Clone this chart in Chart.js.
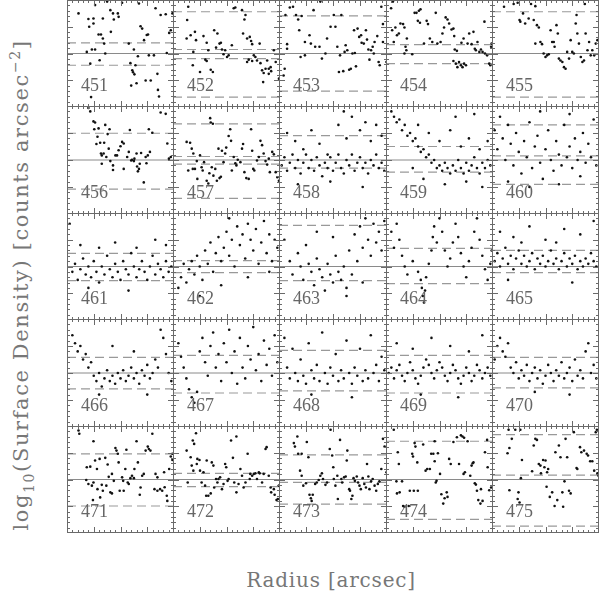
<!DOCTYPE html>
<html><head><meta charset="utf-8">
<script src="https://cdn.jsdelivr.net/npm/chart.js@4.4.1/dist/chart.umd.min.js"></script>
<style>
html,body{margin:0;padding:0;background:#fff;width:600px;height:601px;overflow:hidden;}
#wrap{position:relative;width:600px;height:601px;}
.panel{position:absolute;}
.panel canvas{display:block;}
.lab{position:absolute;font-family:"Liberation Serif",serif;font-size:18px;color:#666;white-space:nowrap;}
#xt{position:absolute;left:331px;top:580px;transform:translate(-50%,-50%);font-family:"DejaVu Serif",serif;font-size:20px;letter-spacing:0.8px;color:#777;white-space:nowrap;}
#yt{position:absolute;left:22px;top:285px;transform:translate(-50%,-50%) rotate(-90deg);font-family:"DejaVu Serif",serif;font-size:21px;letter-spacing:1.6px;color:#777;white-space:nowrap;}
#yt sub,#yt sup{font-size:14px;}
</style></head><body>
<div id="wrap">
<div id="xt">Radius [arcsec]</div>
<div id="yt">log<sub>10</sub>(Surface Density) [counts arcsec<sup>−2</sup>]</div>
</div>
<script>
const panelIds = [451,452,453,454,455,456,457,458,459,460,461,462,463,464,465,466,467,468,469,470,471,472,473,474,475];
const solidLevels = [20,20,20,20,20, 20,20,20,20,20, 20,20,20,20,20, 20,20,20,20,20, 20,20,20,20,20];
const dashLevels = [
 [24,15.6],[35.6,21.5,18.1,3.7],[34.1,5.9],[23.3,16.2],[35.6,3.7],
 [29.9,9.2],[33.4,21.3,18.5,5.8],[29,17],[25,15.5],[33,21.5,11],
 [24.9,14.7],[22.2,17.7],[35.4,14.7],[26.8,13.6],[26,17.7],
 [25.8,14.1],[26.5,12.6],[28.4,13.4],[26.5,12.6],[25.8,14.5],
 [29.6,10.1],[22.3,17.3],[29.2,18.9,10.8],[34.3,5.1],[36.8,21.6,2.6]
];
const pts451 = [[4.3,35],[8,32.9],[9.9,33.1],[8.3,30],[9.9,31.2],[10.5,38.1],[13.4,33.1],[15,39.4],[16.2,36.2],[17.2,35],[17.5,32.7],[19,35],[19.3,33.7],[20.6,39],[11.8,27.1],[12.7,27.1],[13.4,25.6],[13.9,23.7],[16.4,28.1],[7.4,20.6],[9.3,21.5],[10.5,21.5],[8.7,16.2],[12.2,17.5],[14.3,20],[23.1,23.7],[25,21.5],[23.7,16.4],[24.4,13.7],[24.7,13],[25.2,12.2],[24,8],[26,8.9],[26.5,19],[26.9,38.7],[27.5,30.2],[28.1,29.3],[28.8,25],[29.8,26.9],[30.3,27.1],[30.6,19.3],[32.5,19.3],[29.4,9.9],[31.3,9.9],[33.1,36.9],[33.8,12.4],[34,6.4],[34.4,3.9],[35,34.4],[36.9,34.7],[37.3,20.2],[38.2,27.7],[38.8,28.7],[39.4,35],[9,3.7],[25.6,15.6]];
const pts452 = [[5.7,37.5],[5.3,32.5],[5.1,25.6],[6.6,26.8],[8.2,28.1],[8.6,25],[7.6,20.6],[7.4,15.6],[10.1,13.1],[11.4,26.5],[12.6,24],[13.2,21.2],[14.1,13.9],[14.9,13.1],[12.1,17.7],[12.6,17.2],[15.4,28.7],[16.1,22.2],[16.6,27.5],[17.4,23.7],[17.9,24],[18.3,21.5],[18.9,19.7],[19.5,21.2],[20.2,18.7],[20.8,19.3],[22,23.1],[22.7,36.9],[23.3,37.2],[25.8,36.2],[27.1,34.4],[26.7,32.7],[26.2,27.5],[27.7,25.6],[28.7,26.2],[29.2,24.7],[29.6,23.5],[30.2,19.3],[30.8,18.7],[28.3,17.7],[27.7,16.8],[29.6,17.2],[31.4,17.4],[32.4,23.7],[32.7,16.4],[33.3,13.7],[33.9,12.7],[34.6,14.3],[35.2,17.4],[35.8,14.3],[36.5,14.9],[36.7,13.4],[37.7,21.2],[38.4,16.8],[33.7,9.3],[39.6,10.6],[35.8,12.4]];
const pts453 = [[2.1,14.3],[1.7,11.8],[2.4,34.4],[3,21.8],[3,23.5],[4,37.2],[5.2,37.5],[6.3,34.4],[7.1,32.7],[7.5,28.7],[8.4,34],[8,18.7],[9.6,19.3],[9.6,24.3],[11.3,26.8],[11.8,23.7],[12.8,36.2],[13.4,22.5],[15,22.5],[15.9,18.1],[17.2,20],[15.3,39.4],[17.8,25.6],[19.1,30],[20.3,34.4],[20.9,30],[21.6,22.5],[22.2,13.1],[22.6,19.3],[23.1,34.4],[23.8,13.4],[24.3,20.6],[24.7,23.1],[25.3,21.2],[26,13.9],[26.6,14.3],[27.2,20],[28.1,20.2],[28.5,15.2],[27.8,28.7],[29.1,29.3],[29.7,26.2],[30.4,26.8],[30.6,24],[31.4,23.7],[32.2,28.7],[32.6,25.2],[33.1,21.5],[33.5,17.7],[34.1,21.2],[34.7,22.5],[35.4,24.3],[35.1,20],[36.4,26.5],[36.9,16.8],[37.3,15.6],[37.9,37.5],[38.5,31],[38.5,24.3],[39.8,16.8]];
const pts454 = [[1.9,36.9],[2.6,39.4],[2.3,28.7],[2.9,24.3],[3.5,29.7],[4.1,26.8],[4.8,27.5],[5.4,31.2],[6.4,31],[6.9,29.7],[7.3,22.5],[7.6,21.2],[6.9,20],[7.8,25.6],[9.8,19.7],[10.7,35.2],[11.4,35.2],[12.3,36],[12.9,36.5],[11.9,32.2],[12.7,31.5],[14.2,23.7],[15.2,32.2],[15.7,31],[16.4,25.6],[17.3,24.3],[18.6,35.2],[19.2,23.7],[20.4,24.3],[21.1,27.5],[21.7,29.7],[22.3,33.5],[23,32.7],[23.6,31.2],[24.5,29],[25.2,29.3],[25.5,26.5],[25.7,21.5],[26.5,21],[25.2,17.2],[26.1,16.2],[26.7,14.9],[27.3,16.8],[28,15.6],[28.6,14.9],[29.2,16.2],[29.9,15.6],[28.2,24],[29,25.6],[30.5,23.7],[31.1,27.5],[32,23.5],[32.7,28.1],[33.2,21.8],[33.6,21.2],[34.2,24.3],[34.9,20.6],[35.5,21.5],[36.1,20.6],[36.8,31.9],[37,20],[37.8,19.3],[38.6,16.2],[39,15.6],[39.3,22.5],[39.5,23.7]];
const pts455 = [[4.5,37.5],[8.1,38.5],[9.6,39],[10.6,31.9],[10.3,32.5],[11.6,35],[12.4,31.2],[13.7,33.1],[14.6,38.5],[15.6,32.5],[16.2,37.7],[16.8,30.6],[17.5,29.7],[16.2,23.7],[18.1,24.3],[18.7,23.5],[19.3,20],[20,18.7],[20.6,19.3],[21.2,19.7],[21.9,28.7],[22.5,24.3],[23.1,24.3],[23.4,22.5],[24.1,30.6],[24.6,27.5],[25,18.1],[25.6,17.4],[26.3,16.8],[26.9,14.9],[27.5,14.3],[28.1,20.6],[28.8,18.1],[29.4,25],[30,20.6],[30.6,20],[31.3,31.2],[31.6,34.4],[31.9,27.5],[32.5,23.7],[33.2,18.7],[33.8,16.8],[34.4,17.4],[34.7,38.5],[35,27.5],[35.7,21.2],[36.3,24.3],[36.9,19.3],[37.5,21.2],[38.2,19.3],[38.8,23.7],[39.4,25]];
const pts456 = [[8,39.3],[8.7,38],[9.9,34.3],[10.5,33.9],[10.2,31.4],[11.8,31.7],[11.4,28.6],[12.4,26.4],[11,25.9],[13.9,26.4],[14.3,33],[15.9,31.4],[15.2,29.6],[13,21.7],[12.7,22.4],[13.7,22.4],[13,18.6],[14.7,21.1],[15.6,24.2],[16.2,19.6],[17.2,18],[17.2,16.3],[18.1,21.7],[18.7,21.7],[19.3,23.6],[20,25.1],[20.6,26.7],[21.2,26.1],[21.2,16.7],[22.5,21.1],[23.1,23],[23.5,31.1],[24,19.8],[24.3,20.1],[25,19.6],[25.2,20.5],[26,22.4],[26.2,17.6],[26.5,15.8],[26.9,16.7],[27.2,18.6],[27.7,22.6],[28.7,11.7],[29.4,21.1],[29.7,18.8],[30.2,21.7],[31,23],[30.6,31.4],[31.9,30.1],[35,37.6],[36.9,37.1],[37.5,26.1],[38.1,20.5],[38.8,21.1]];
const pts457 = [[5.1,26.7],[6.4,26.4],[7,24.2],[5.7,16.1],[7.6,22.4],[7.4,16.7],[8.2,16.7],[8.9,19.6],[9.1,13],[10.1,21.7],[10.7,17.3],[11.1,16.1],[11.6,19.2],[12.6,12.3],[13.2,11.3],[13.9,35.5],[14.1,33.9],[14.9,33.4],[13.6,15.1],[14.5,17.3],[15.1,14.2],[15.8,16.7],[16.4,12.3],[17,24.2],[17.4,13.3],[17.9,13.8],[18.3,23.4],[18.9,19.2],[19.5,22.4],[19.9,24.6],[20.8,28.9],[21.4,31.4],[21.7,27.1],[22,16.1],[22.7,21.1],[23.3,18.8],[23.7,18],[24.2,20.1],[25.2,19.2],[25.8,24.2],[26.2,25.9],[26.7,15.5],[27.4,13.3],[28.3,13],[29.2,31.4],[29.6,23.4],[30,16.7],[30.4,16.1],[31.4,19.8],[32.1,21.1],[32.7,27.1],[33.3,25.5],[33.9,22.4],[34.6,19.6],[35.2,18.3],[35.8,20.5],[36.2,15.5],[37.1,23],[37.7,22.1],[38.4,15.5],[39,13.6],[39.6,12.3]];
const pts458 = [[3,30],[6,27],[9,24],[12,31],[15,26],[18,22],[22,33],[25,28],[27,36],[30,31],[32,34],[34,27],[36,33],[38,29],[24,38],[1,18],[2,21],[3,16],[4,19],[5,22],[6,17],[7,20],[8,15],[9,19],[10,22],[11,17],[12,20],[13,16],[14,21],[15,18],[16,14],[17,19],[18,17],[19,21],[20,16],[21,19],[22,22],[23,17],[24,15],[25,20],[26,18],[27,22],[28,16],[29,19],[30,21],[31,17],[32,19],[33,15],[34,20],[35,18],[36,22],[37,17],[38,19],[39,16],[7,11],[19,12],[31,10]];
const pts459 = [[2,38],[3,36],[4,34],[5,35],[6,31],[7,33],[8,29],[9,30],[10,27],[11,28],[12,25],[13,23],[14,24],[15,21],[16,22],[17,19],[18,20],[19,17],[20,18],[21,16],[22,19],[23,17],[24,15],[25,18],[26,16],[27,20],[28,17],[29,15],[30,19],[31,16],[32,18],[33,21],[34,17],[35,15],[36,19],[37,17],[38,20],[39,18],[12,33],[16,30],[20,27],[24,31],[28,25],[31,28],[35,24],[38,27],[26,36],[33,37],[10,17],[14,13],[22,11],[30,12],[36,10]];
const pts460 = [[1,31],[2,24],[3,36],[4,28],[5,20],[6,33],[7,26],[8,18],[9,30],[10,23],[11,15],[12,27],[13,21],[14,34],[15,17],[16,25],[17,29],[18,19],[19,13],[20,24],[21,31],[22,20],[23,16],[24,27],[25,22],[26,18],[27,33],[28,21],[29,25],[30,17],[31,28],[32,20],[33,23],[34,30],[35,19],[36,26],[37,21],[38,35],[39,18],[6,12],[14,10],[25,11],[33,14],[18,38],[29,37]];
const pts461 = [[1,36],[2,18],[3,21],[4,15],[5,19],[6,23],[7,17],[8,20],[9,16],[10,22],[11,18],[12,14],[13,20],[14,17],[15,24],[16,19],[17,16],[18,21],[19,18],[20,15],[21,22],[22,19],[23,17],[24,25],[25,20],[26,16],[27,19],[28,22],[29,18],[30,15],[31,20],[32,24],[33,17],[34,21],[35,19],[36,16],[37,22],[38,18],[39,20],[5,28],[12,27],[18,29],[26,27],[33,30],[37,28],[8,12],[23,11]];
const pts462 = [[2,12],[3,16],[5,14],[6,19],[7,22],[8,17],[9,24],[10,20],[11,15],[12,26],[13,21],[14,29],[15,18],[16,25],[17,31],[18,22],[19,27],[20,33],[21,24],[22,30],[23,20],[24,35],[25,28],[26,32],[27,23],[28,36],[29,30],[30,26],[31,34],[32,21],[33,29],[34,37],[35,25],[36,32],[37,22],[38,30],[39,27],[10,9],[18,13],[28,16],[36,18],[4,21],[21,38]];
const pts463 = [[2,30],[4,22],[5,17],[7,25],[8,20],[9,15],[10,28],[11,21],[12,18],[13,13],[14,23],[15,19],[16,16],[17,11],[18,21],[19,17],[20,14],[21,24],[22,18],[23,15],[24,20],[25,12],[26,26],[27,17],[28,32],[29,22],[30,35],[31,27],[32,38],[33,30],[34,24],[35,36],[36,29],[37,33],[38,26],[39,37],[20,31],[14,33],[25,9],[31,14]];
const pts464 = [[2,33],[3,27],[4,36],[5,30],[6,24],[7,20],[8,17],[10,22],[12,18],[13,15],[13.4,12],[13.8,9],[14.2,6.5],[14.6,11],[15,16],[16,21],[17,26],[17.5,31],[18,35],[19,29],[20,38],[21,33],[22,26],[23,20],[24,23],[25,29],[26,36],[27,31],[28,25],[29,20],[30,16],[31,22],[32,27],[33,33],[34,38],[35,30],[36,24],[37,19],[38,15],[39,21],[39.5,26]];
const pts465 = [[1,22],[2,25],[3,20],[4,23],[5,27],[6,21],[7,24],[8,19],[9,23],[10,26],[11,21],[12,24],[13,20],[14,22],[15,25],[16,19],[17,23],[18,21],[19,24],[20,20],[21,22],[22,26],[23,21],[24,23],[25,19],[26,22],[27,25],[28,20],[29,23],[30,21],[31,24],[32,19],[33,22],[34,20],[35,23],[36,21],[37,25],[38,22],[39,20],[3,33],[8,31],[14,35],[20,30],[27,34],[33,32],[38,37],[11,29],[24,29],[6,15],[30,14]];
const pts466 = [[2,34],[3,31],[4,28],[5,30],[6,25],[7,27],[8,22],[9,24],[10,19],[11,17],[12,20],[13,15],[14,18],[15,21],[16,17],[17,19],[18,16],[19,20],[20,18],[21,21],[22,17],[23,19],[24,22],[25,18],[26,20],[27,16],[28,21],[29,19],[30,23],[31,18],[32,20],[33,25],[34,22],[35,36],[36,33],[37,27],[38,20],[39,17],[17,30],[25,28],[12,12],[30,12]];
const pts467 = [[2,31],[3,26],[4,22],[5,18],[6,14],[7,11],[8,9],[9,13],[10,28],[11,33],[12,24],[13,19],[14,30],[15,35],[16,22],[17,27],[18,17],[19,31],[20,24],[21,36],[22,20],[23,28],[24,16],[25,33],[26,22],[27,18],[28,30],[29,25],[30,37],[31,21],[32,27],[33,17],[34,32],[35,23],[36,29],[37,19],[38,34],[39,24]];
const pts468 = [[2,33],[3,22],[4,18],[5,29],[6,20],[7,17],[8,25],[9,19],[10,16],[11,31],[12,21],[13,18],[14,23],[15,17],[16,35],[17,20],[18,16],[19,22],[20,19],[21,27],[22,17],[23,21],[24,18],[25,32],[26,20],[27,16],[28,22],[29,19],[30,29],[31,17],[32,21],[33,18],[34,34],[35,20],[36,23],[37,17],[38,26],[39,21],[12,12],[27,11]];
const pts469 = [[1,20],[2,22],[3,18],[4,21],[5,23],[6,19],[7,17],[8,20],[9,24],[10,21],[11,18],[12,16],[13,19],[14,22],[15,25],[16,23],[17,20],[18,18],[19,21],[20,24],[21,22],[22,19],[23,17],[24,20],[25,23],[26,21],[27,18],[28,16],[29,19],[30,22],[31,20],[32,17],[33,19],[34,23],[35,21],[36,18],[37,20],[38,22],[39,19],[4,31],[10,29],[17,33],[24,30],[31,28],[36,34],[13,12],[27,11]];
const pts470 = [[1,25],[2,30],[3,33],[4,28],[5,26],[6,31],[7,22],[8,20],[9,24],[10,18],[11,21],[12,19],[13,23],[14,17],[15,20],[16,22],[17,18],[18,21],[19,16],[20,19],[21,23],[22,20],[23,17],[24,21],[25,19],[26,24],[27,18],[28,20],[29,22],[30,17],[31,25],[32,19],[33,21],[34,18],[35,28],[36,31],[37,20],[38,23],[39,18],[16,13],[29,12]];
const pts471 = [[4.3,38.3],[4.6,37.1],[9.9,34.3],[7.4,24.6],[8.7,24.8],[7.2,19.8],[8,18.3],[9.3,17.7],[9.9,18.9],[9.7,12.3],[10.5,27.1],[11.2,23.9],[11.4,16.4],[12.2,27.7],[12.4,13.3],[13,18],[13.4,15.8],[14.3,28.1],[14.7,17.7],[15.2,25.6],[15.6,21],[16.2,15.2],[16.8,22.1],[16.8,14.8],[17.5,19.5],[18.1,31.8],[18.5,30.8],[19,29.6],[19.3,26.4],[19.7,15.8],[20.6,20.8],[21,19.5],[21.2,15.8],[21.8,23.9],[22.2,31.1],[22.7,18.9],[23.1,18.3],[23.7,20.5],[24.3,21.4],[25,20.5],[25.2,23.9],[26,34.3],[26.5,26.4],[27.2,14.3],[27.5,17],[28.1,21.4],[28.7,22.1],[29.4,30.8],[30.2,32.3],[30.6,31.4],[31.2,30.8],[31.9,37.1],[33.1,22.1],[33.8,20.8],[32.7,16.4],[33.8,15.8],[34.8,16.4],[35.6,15.8],[36.3,22.7],[36.5,17.1],[37.3,13.9],[37.5,12],[38.2,23.9],[38.8,28.6],[39.4,29.6],[39.4,27.3]];
const pts472 = [[5.1,30.8],[5.5,18.9],[6.6,28.3],[7,25.2],[7.4,34.6],[7.9,33.3],[8.6,37.3],[7.6,23.3],[8.9,25.8],[9.1,27.7],[9.9,27.3],[10.1,23.3],[10.7,18.9],[11.4,22.7],[12,17.7],[12.4,13.9],[12.6,27.1],[13.2,13.9],[14.1,14.8],[14.5,26.4],[15.1,25.2],[15.4,17],[16.1,20.2],[16.6,18.9],[17,20.2],[17.6,20.8],[18.3,16.4],[18.9,18.3],[19.5,25.8],[19.9,24.6],[20.4,19.5],[20.8,20.2],[21.7,34.6],[22.4,28.1],[22.9,18.9],[23.7,15.2],[23.7,36.1],[24.5,18.3],[25.2,23.9],[25.8,21.4],[26.4,17],[27.1,18.9],[27.9,29.6],[28.7,20.2],[28.9,22.1],[29.6,21.4],[30.2,22.1],[30.8,22.3],[31.4,20.2],[32.1,22.7],[32.4,22.3],[33.3,18.9],[33.9,22.1],[34.6,31.4],[35,32.1],[35.8,21.4],[36.5,17],[36.7,15.2],[37.7,16.4],[38,14.3],[38.7,12.3],[39.2,12.7],[39.6,17.7]];
const pts473 = [[5.5,33.6],[5.9,32.3],[6.8,36.1],[7.1,29.6],[8.4,29.6],[7.8,23.3],[8.4,21.4],[9,17.7],[10,18.6],[10.3,34],[10.9,28.3],[11.3,14.3],[11.8,13],[12.1,12],[12.5,14.3],[13.4,18.3],[14,18.9],[14.7,19.8],[15.3,21.4],[15.9,22.3],[16.3,20.2],[17.2,18],[17.8,18.9],[18.8,31.4],[19.1,38.6],[19.7,29],[20.1,24.6],[20.3,20.2],[20.9,17.7],[21.6,21.4],[21.8,12.7],[22.6,34.8],[23.1,20.2],[23.4,18.9],[24.1,20.8],[24.7,21.1],[25.1,27.1],[25.3,30.8],[26,16.4],[26.3,15.8],[26.8,12.7],[27.2,13.9],[27.6,20.5],[28.1,19.5],[28.8,21.1],[29.3,18.9],[29.8,17.7],[30.3,16.4],[31,20.5],[31.6,18.3],[32.2,17],[32.6,25.8],[33.1,21.1],[33.5,16.4],[34.1,19.3],[34.7,20.2],[35.4,17.7],[36,15.8],[36.6,18.3],[37.2,19.3],[37.9,23.9],[38.5,35.2],[39.1,32.3],[39.8,22.7]];
const pts474 = [[2.9,38.6],[4.4,30.2],[4.8,25.8],[3.9,19.3],[6,19.3],[4.1,14.8],[5.1,15.2],[6.4,10.1],[6.9,9.8],[8.5,10.1],[8.9,15.8],[9.8,29.6],[10.1,28.6],[10.7,33.6],[11,32.3],[10.4,15.8],[11.7,26.4],[11.9,15.8],[13.9,33.1],[14.8,23.3],[15.4,23.9],[16.4,23.9],[16.9,29.6],[17.7,29.6],[18.2,26.8],[18.2,34.3],[18.6,18.9],[18.9,19.5],[19.4,29.8],[20.2,22.1],[20.7,14.5],[21.4,11],[21.9,13],[22.7,15.2],[23,13.5],[23.6,27.7],[24.2,25.8],[25.2,34],[26.5,35.8],[27.3,25.8],[28,36.5],[28.6,36.1],[29.2,35.6],[29,22.1],[29.5,22.7],[30.5,34.3],[31.5,21.4],[32.4,26.1],[32.7,26.4],[32,25.2],[33.2,18.6],[33.6,18.1],[34,15.8],[34.5,12.3],[35.3,11],[35.5,16.4],[36.1,12],[37,30.2],[37.8,34.8],[38,24.6],[38.6,16],[39.3,17],[39.9,19.8]];
const pts475 = [[6.2,38.6],[8.7,38.6],[10.6,38.6],[5.8,29.8],[6.5,31.8],[7.4,35.2],[6.5,16],[9.9,15.2],[9.6,12.7],[10.3,11.4],[11.2,27.3],[10.8,20.5],[15,23.1],[15.6,32.7],[16.2,35.2],[16.8,34.8],[17.5,25.8],[18.1,25.2],[18.3,22.3],[19.1,27.3],[19.6,24.6],[20,27.1],[20.4,17.3],[20.6,22.7],[21,23.9],[21.6,13.5],[22.5,15.2],[23.4,10.1],[23.7,30.2],[24.4,12.3],[25,32.7],[25.6,28.3],[26.3,15.2],[26.6,9.8],[27.1,19.3],[27.5,35.2],[28.1,28.3],[28.8,15.8],[29.4,14.8],[30.6,37.7],[31.6,24.3],[31.9,23.9],[32.9,32.1],[33.4,30.2],[34.4,30.8],[35.4,29.6],[35.9,29],[36.7,26.8],[37.5,26.8],[38.2,23.3],[38.8,37.7],[39.2,38.6],[39.4,22.3],[39.8,21.4]];
const panelPoints = [pts451,pts452,pts453,pts454,pts455,pts456,pts457,pts458,pts459,pts460,pts461,pts462,pts463,pts464,pts465,pts466,pts467,pts468,pts469,pts470,pts471,pts472,pts473,pts474,pts475];

const AX_MIN = 0, AX_MAX = 40, MINOR = 2, MAJOR = 10;
const colEdges = [67,173,279,386,492,598];
const rowEdges = [0,106,213,319,426,532];

const frame = {id:'frame', afterDraw(chart){
  const {ctx, chartArea:a, scales:{x,y}} = chart;
  ctx.save(); ctx.strokeStyle='#6a6a6a'; ctx.lineWidth=1;
  ctx.strokeRect(a.left+0.5, a.top+0.5, a.right-a.left-1, a.bottom-a.top-1);
  ctx.beginPath();
  for(let v=AX_MIN; v<=AX_MAX; v+=MINOR){
    const L = (v%MAJOR===0)?6:3;
    const px = Math.round(x.getPixelForValue(v))+0.5;
    ctx.moveTo(px,a.top); ctx.lineTo(px,a.top+L);
    ctx.moveTo(px,a.bottom); ctx.lineTo(px,a.bottom-L);
    const py = Math.round(y.getPixelForValue(v))+0.5;
    ctx.moveTo(a.left,py); ctx.lineTo(a.left+L,py);
    ctx.moveTo(a.right,py); ctx.lineTo(a.right-L,py);
  }
  ctx.stroke(); ctx.restore();
}};

const wrap = document.getElementById('wrap');
panelIds.forEach((id,i)=>{
  const c = i%5, r = Math.floor(i/5);
  const left = colEdges[c], top = rowEdges[r];
  const w = colEdges[c+1]-left+1, h = rowEdges[r+1]-top+1;
  const div = document.createElement('div');
  div.className='panel'; div.style.left=left+'px'; div.style.top=top+'px';
  div.style.width=w+'px'; div.style.height=h+'px';
  const cv = document.createElement('canvas'); cv.width=w; cv.height=h;
  div.appendChild(cv); wrap.appendChild(div);
  const lab = document.createElement('div'); lab.className='lab'; lab.textContent=String(id);
  lab.style.left=(left+14)+'px'; lab.style.top=(top+h-32)+'px';
  wrap.appendChild(lab);
  const s = solidLevels[i];
  const ds = [
    {type:'scatter', data:panelPoints[i].map(p=>({x:p[0],y:p[1]})), pointRadius:1.3, hoverRadius:0, pointBackgroundColor:'#111', pointBorderWidth:0, showLine:false, order:0},
    {type:'line', data:[{x:AX_MIN,y:s},{x:AX_MAX,y:s}], borderColor:'#8a8a8a', borderWidth:1, pointRadius:0, order:1}
  ];
  dashLevels[i].forEach(d=>ds.push({type:'line', data:[{x:AX_MIN,y:d},{x:AX_MAX,y:d}], borderColor:'#999', borderWidth:1.2, borderDash:[9,5], pointRadius:0, order:1}));
  new Chart(cv, {
    type:'scatter', data:{datasets:ds},
    options:{responsive:false, animation:false, events:[], layout:{padding:0, autoPadding:false},
      plugins:{legend:{display:false}, tooltip:{enabled:false}},
      scales:{x:{type:'linear',min:AX_MIN,max:AX_MAX,display:false}, y:{type:'linear',min:AX_MIN,max:AX_MAX,display:false}}},
    plugins:[frame]
  });
});
</script>
</body></html>
